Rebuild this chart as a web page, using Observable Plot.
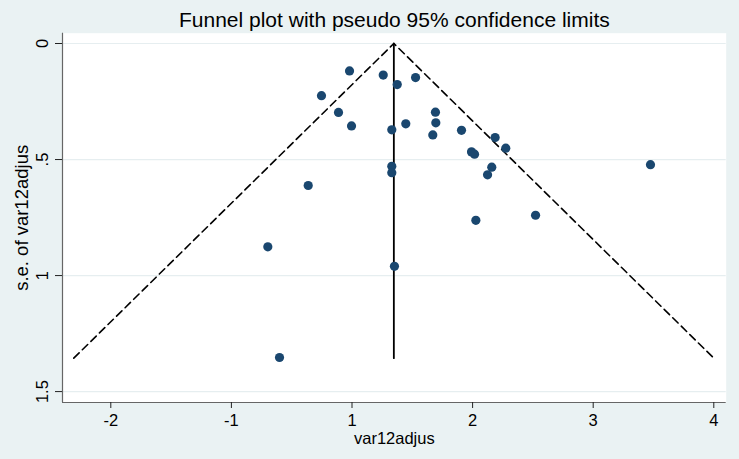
<!DOCTYPE html>
<html>
<head>
<meta charset="utf-8">
<script src="https://cdn.jsdelivr.net/npm/d3@7"></script>
<script src="https://cdn.jsdelivr.net/npm/@observablehq/plot@0.6"></script>
<style>
  html, body { margin: 0; padding: 0; background: #eaf2f3; }
</style>
</head>
<body>
<div id="chart"></div>
<script>
// Study estimates (x, read against the printed tick labels) and standard errors
const studyEffect = [0.959, 1.259, 1.375, 1.527, 0.494, 0.776, 0.992, 1.330, 1.446, 1.692,
                     1.695, 1.670, 1.908, 2.187, 2.275, 1.991, 2.016, 2.159, 2.124, 1.330,
                     1.330, 0.274, 3.475, -0.396, 2.522, 2.027, 1.352, -0.202];
const studySE = [0.118, 0.136, 0.177, 0.147, 0.225, 0.297, 0.355, 0.372, 0.346, 0.296,
                 0.342, 0.394, 0.374, 0.405, 0.451, 0.467, 0.477, 0.533, 0.566, 0.529,
                 0.557, 0.612, 0.522, 0.876, 0.740, 0.762, 0.960, 1.353];

// Pooled estimate line and pseudo 95% confidence limits
const pooledX = [1.347, 1.347];
const pooledSE = [0, 1.356];
const funnelX = [-2.307, 1.347, 4.0];
const funnelSE = [1.356, 0, 1.356];

// Axes
const xTicks = [-2, -1, 1, 2, 3, 4];
const xTickLabels = ["-2", "-1", "1", "2", "3", "4"];
const yTicks = [0, 0.5, 1, 1.5];
const yTickLabels = ["0", ".5", "1", "1.5"];
const titleText = "Funnel plot with pseudo 95% confidence limits";
const xTitle = "var12adjus";
const yTitle = "s.e. of var12adjus";

const studies = studyEffect.map((x, i) => ({x, se: studySE[i]}));
const pooled = pooledX.map((x, i) => ({x, se: pooledSE[i]}));
const funnel = funnelX.map((x, i) => ({x, se: funnelSE[i]}));
const yTickData = yTicks.map((v, i) => ({v, label: yTickLabels[i]}));

const W = 739, H = 459;
const mL = 62, mR = 13.3, mT = 32.7, mB = 57;
const xDomain = [-2.4005, -1, 1, 4.1028];
const xRange = [62, 230.9, 351.5, 725.7];
const yDomain = [1.547, -0.0444];

const chart = Plot.plot({
  width: W,
  height: H,
  marginLeft: mL,
  marginRight: mR,
  marginTop: mT,
  marginBottom: mB,
  style: {
    background: "#eaf2f3",
    fontFamily: "'Liberation Sans', Arial, sans-serif",
    fontSize: "16px",
    color: "#000"
  },
  x: {type: "linear", domain: xDomain, range: xRange, axis: null},
  y: {type: "linear", domain: yDomain, axis: null},
  marks: [
    Plot.frame({fill: "white", stroke: null}),
    Plot.gridY(yTicks, {stroke: "#e6eef0", strokeOpacity: 1, strokeWidth: 1.2}),
    Plot.ruleX([xDomain[0]], {stroke: "#666", strokeWidth: 1.2}),
    Plot.ruleY([yDomain[0]], {stroke: "#666", strokeWidth: 1.2}),
    Plot.axisX(xTicks, {
      tickSize: 6, tickPadding: 6, fontSize: 16.5,
      tickFormat: (d) => xTickLabels[xTicks.indexOf(d)],
      stroke: "#222", label: null
    }),
    Plot.axisY(yTicks, {tickSize: 7, tickFormat: () => "", stroke: "#222", label: null}),
    Plot.text(yTickData, {
      y: "v", text: "label", frameAnchor: "left", dx: -20, rotate: -90,
      textAnchor: "middle", lineAnchor: "middle", fontSize: 16.5, fill: "#000"
    }),
    Plot.line(funnel, {x: "x", y: "se", stroke: "#000", strokeWidth: 1.6, strokeDasharray: "7.5,4.5"}),
    Plot.line(pooled, {x: "x", y: "se", stroke: "#000", strokeWidth: 1.8}),
    Plot.dot(studies, {x: "x", y: "se", r: 4.6, fill: "#1a476f", stroke: null}),
    Plot.text([titleText], {
      frameAnchor: "top", dy: -13, lineAnchor: "middle", textAnchor: "middle",
      fontSize: 21, fill: "#000"
    }),
    Plot.text([xTitle], {
      frameAnchor: "bottom", dy: 36, lineAnchor: "middle", textAnchor: "middle",
      fontSize: 16.5, fill: "#000"
    }),
    Plot.text([yTitle], {
      frameAnchor: "left", dx: -40, rotate: -90, lineAnchor: "middle", textAnchor: "middle",
      fontSize: 18.5, fill: "#000"
    })
  ]
});

document.getElementById("chart").appendChild(chart);
</script>
</body>
</html>
